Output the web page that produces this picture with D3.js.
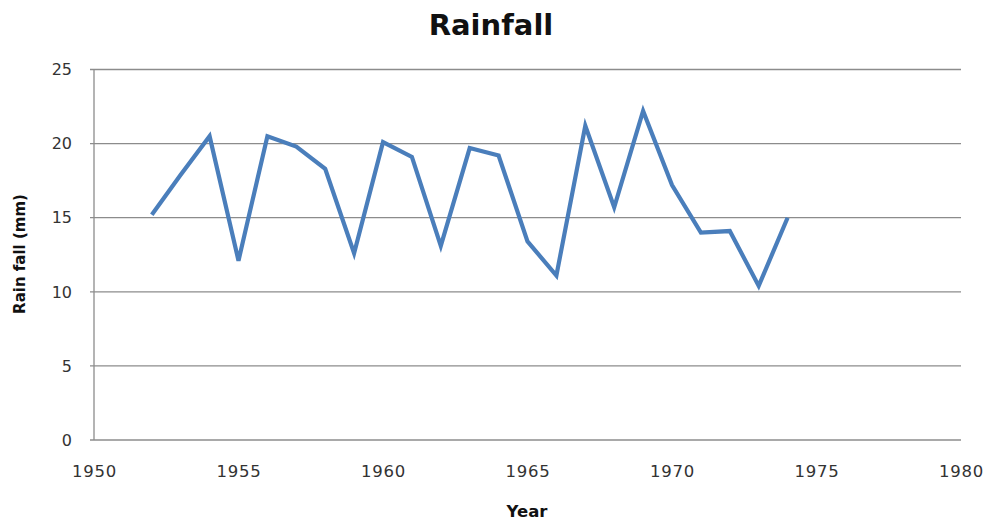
<!DOCTYPE html>
<html>
<head>
<meta charset="utf-8">
<script src="https://cdn.jsdelivr.net/npm/d3@7"></script>
<style>
  body { margin: 0; background: #fff; }
  text { font-family: "DejaVu Sans", Verdana, sans-serif; }
</style>
</head>
<body>
<svg id="chart"></svg>
<script>
var years = [1952, 1953, 1954, 1955, 1956, 1957, 1958, 1959, 1960, 1961, 1962, 1963,
             1964, 1965, 1966, 1967, 1968, 1969, 1970, 1971, 1972, 1973, 1974];
var rainfall = [15.2, 17.9, 20.5, 12.1, 20.5, 19.8, 18.3, 12.6, 20.1, 19.1, 13.1, 19.7,
                19.2, 13.4, 11.1, 21.2, 15.7, 22.2, 17.2, 14.0, 14.1, 10.4, 15.0];
var xTicks = [1950, 1955, 1960, 1965, 1970, 1975, 1980];
var yTicks = [0, 5, 10, 15, 20, 25];

var width = 990, height = 521;
var plotLeft = 94, plotRight = 961, plotTop = 69.5, plotBottom = 440;

var svg = d3.select("#chart")
    .attr("width", width)
    .attr("height", height);

var x = d3.scaleLinear().domain([1950, 1980]).range([plotLeft, plotRight]);
var y = d3.scaleLinear().domain([0, 25]).range([plotBottom, plotTop]);

// gridlines
svg.append("g").selectAll("line")
    .data(yTicks)
    .enter().append("line")
    .attr("x1", plotLeft - 4)
    .attr("x2", plotRight)
    .attr("y1", function(d) { return y(d); })
    .attr("y2", function(d) { return y(d); })
    .style("stroke", "#8c8c8c")
    .style("stroke-width", 1.3);

// y axis line
svg.append("line")
    .attr("x1", plotLeft).attr("x2", plotLeft)
    .attr("y1", plotTop).attr("y2", plotBottom)
    .style("stroke", "#8c8c8c")
    .style("stroke-width", 1.3);

// tick labels
svg.append("g").selectAll("text")
    .data(yTicks)
    .enter().append("text")
    .attr("x", 72)
    .attr("y", function(d) { return y(d); })
    .attr("dy", "0.36em")
    .attr("text-anchor", "end")
    .style("font-size", "16px")
    .style("fill", "#333")
    .text(function(d) { return d; });

svg.append("g").selectAll("text")
    .data(xTicks)
    .enter().append("text")
    .attr("x", function(d) { return x(d) + 0.5; })
    .attr("y", 477)
    .attr("text-anchor", "middle")
    .style("font-size", "16.5px")
    .style("letter-spacing", "0.8px")
    .style("fill", "#333")
    .text(function(d) { return d; });

// series line
var line = d3.line()
    .x(function(d, i) { return x(years[i]); })
    .y(function(d) { return y(d); });

svg.append("path")
    .datum(rainfall)
    .attr("d", line)
    .style("fill", "none")
    .style("stroke", "#4a7ebb")
    .style("stroke-width", 4.2)
    .style("stroke-linejoin", "miter");

// titles
svg.append("text")
    .attr("x", 491).attr("y", 35)
    .attr("text-anchor", "middle")
    .style("font-size", "29px")
    .style("font-weight", "bold")
    .style("fill", "#111")
    .text("Rainfall");

svg.append("text")
    .attr("x", 527).attr("y", 517)
    .attr("text-anchor", "middle")
    .style("font-size", "16.5px")
    .style("font-weight", "bold")
    .style("fill", "#111")
    .text("Year");

svg.append("text")
    .attr("transform", "translate(25,254) rotate(-90)")
    .attr("text-anchor", "middle")
    .style("font-size", "15px")
    .style("font-weight", "bold")
    .style("fill", "#111")
    .text("Rain fall (mm)");
</script>
</body>
</html>
